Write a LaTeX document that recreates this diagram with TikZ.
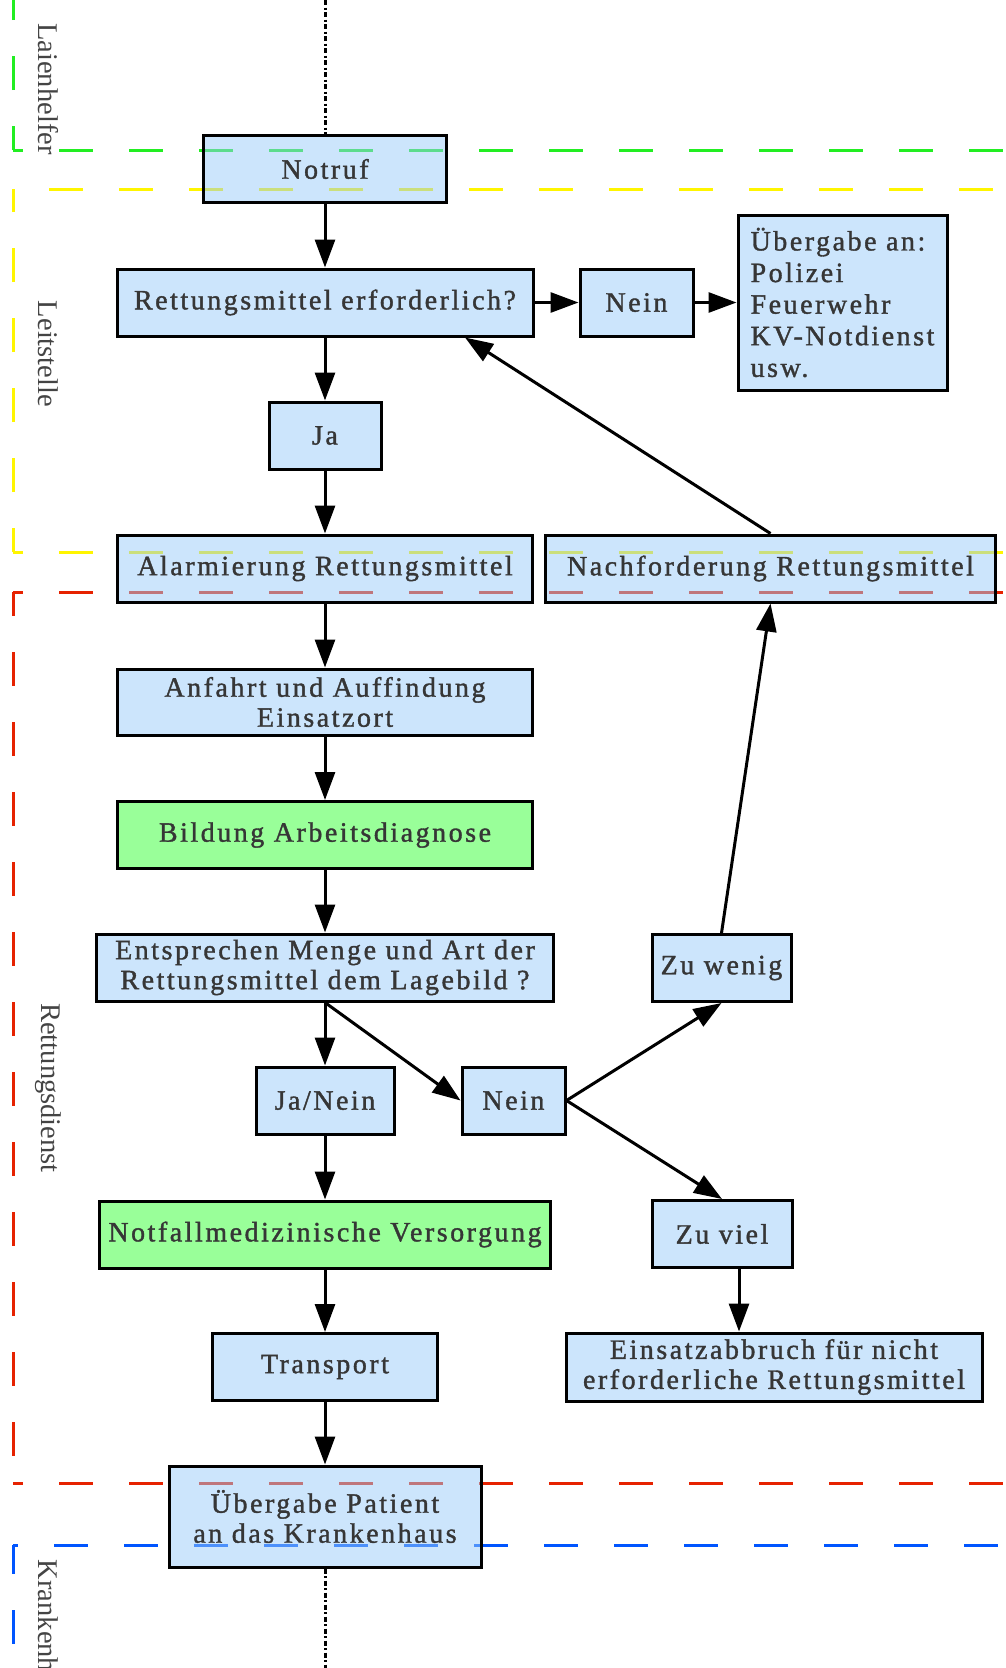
\documentclass[tikz,border=0pt]{standalone}
\usepackage{fontspec}
\setmainfont{Liberation Serif}
\newfontfamily\boxfont[LetterSpace=9, FakeBold=1.3]{Liberation Serif}
\usetikzlibrary{arrows.meta, positioning, calc}
\definecolor{mBox}{RGB}{153,203,249}
\definecolor{mAction}{RGB}{51,255,51}
\definecolor{mText}{HTML}{363636}
\definecolor{mLaie}{RGB}{34,238,34}
\definecolor{mLeit}{RGB}{255,245,0}
\definecolor{mRett}{RGB}{230,34,0}
\definecolor{mKrank}{RGB}{0,85,255}
\definecolor{mLabel}{HTML}{444444}

\begin{document}
\begin{tikzpicture}[x=1pt, y=-1pt, line width=3pt,
      >={Triangle[length=28pt, width=20pt]},
      box/.style={draw, fill=mBox, fill opacity=0.5, text opacity=1,
                  text=mText, inner sep=0pt, minimum height=67pt,
                  align=center, font=\boxfont\fontsize{28}{30}\selectfont},
      act/.style={box, fill=mAction},
      lane/.style={dash pattern=on 34pt off 36pt, line width=3pt},
      lanelbl/.style={rotate=-90, text=mLabel,
                      font=\fontsize{28.5}{30}\selectfont},
      dotline/.style={line width=3pt,
                      dash pattern=on 5pt off 2.5pt on 2pt off 2.5pt}]
    \useasboundingbox (0,0) rectangle (1005,1668);

    % lanes
    \draw[lane, mLaie, dash phase=10pt] (13,150) -- (13,-60);
    \draw[lane, mLaie, dash phase=24pt] (13,150) -- (1060,150);
    \draw[lane, mLeit, dash phase=34pt] (13,189) -- (1060,189);
    \draw[lane, mLeit, dash phase=10pt] (13,552) -- (13,189);
    \draw[lane, mLeit, dash phase=24pt] (13,552) -- (1060,552);
    \draw[lane, mRett, dash phase=24pt] (13,592) -- (1060,592);
    \draw[lane, mRett, dash phase=10pt] (13,592) -- (13,1483);
    \draw[lane, mRett, dash phase=24pt] (13,1483) -- (1060,1483);
    \draw[lane, mKrank, dash phase=29pt] (13,1545) -- (1060,1545);
    \draw[lane, mKrank, dash phase=5pt] (13,1545) -- (13,1720);

    \node[lanelbl] (laien) at (48,89) {Laienhelfer};
    \node[lanelbl] (leit) at (48,354) {Leitstelle};
    \node[lanelbl] (rett) at (48,1088) {Rettungsdienst};
    \node[lanelbl] (krank) at (48,1635) {Krankenhaus};

    % boxes
    \node[box, minimum width=243pt] (notruf) at (325,169) {Notruf};
    \node[box, minimum width=416pt] (erf) at (325,302.5) {Rettungsmittel erforderlich?};
    \node[box, minimum width=113pt] (neinA) at (636.5,302.5) {Nein};
    \node[box, minimum width=209pt, minimum height=175pt, align=left,
          font=\boxfont\fontsize{28}{31.6}\selectfont] (abgabe) at (842.5,302.5)
          {Übergabe an:\\Polizei\\Feuerwehr\\KV-Notdienst\\usw.};
    \node[box, minimum width=112pt] (ja) at (325,435.5) {Ja};
    \node[box, minimum width=415pt] (alarm) at (325,568.5) {Alarmierung Rettungsmittel};
    \node[box, minimum width=450pt] (nachf) at (770.5,568.5) {Nachforderung Rettungsmittel};
    \node[box, minimum width=415pt, minimum height=66pt] (anfahrt) at (325,702)
          {Anfahrt und Auffindung\\Einsatzort};
    \node[act, minimum width=415pt] (diagnose) at (325,835) {Bildung Arbeitsdiagnose};
    \node[box, minimum width=457pt] (lage) at (325,967.5)
          {Entsprechen Menge und Art der\\Rettungsmittel dem Lagebild ?};
    \node[box, minimum width=138pt] (janein) at (325,1100.5) {Ja/Nein};
    \node[box, minimum width=103pt] (neinB) at (513.5,1100.5) {Nein};
    \node[box, minimum width=139pt] (wenig) at (721.5,968) {Zu wenig};
    \node[act, minimum width=451pt] (versorgung) at (325,1234.5) {Notfallmedizinische Versorgung};
    \node[box, minimum width=140pt] (viel) at (722,1234) {Zu viel};
    \node[box, minimum width=225pt] (transport) at (325,1367) {Transport};
    \node[box, minimum width=416pt, minimum height=68pt] (abbruch) at (774,1367)
          {Einsatzabbruch für nicht\\erforderliche Rettungsmittel};
    \node[box, minimum width=312pt, minimum height=101pt] (uebergabe) at (325,1516.5)
          {Übergabe Patient\\an das Krankenhaus};

    \coordinate (oben) at (325,0);
    \coordinate (unten) at (325,1668);
    \draw[dotline] (oben) -- (notruf);
    \draw[dotline] (uebergabe) -- (unten);

    % connectors
    \draw[->] (notruf) -- (erf);
    \draw[->] (erf) -- (neinA);
    \draw[->] (neinA) -- (abgabe);
    \draw[->] (erf) -- (ja);
    \draw[->] (ja) -- (alarm);
    \draw[->] (nachf.north) -- ([xshift=140pt]erf.south);
    \draw[->] (alarm) -- (anfahrt);
    \draw[->] (anfahrt) -- (diagnose);
    \draw[->] (diagnose) -- (lage);
    \draw[->] (lage) -- (janein);
    \draw[->] (lage.south) -- (neinB.west);
    \draw[->] (neinB.east) -- (wenig.south);
    \draw[->] (neinB.east) -- (viel.north);
    \draw[->] (wenig.north) -- (nachf.south);
    \draw[->] (janein) -- (versorgung);
    \draw[->] (versorgung) -- (transport);
    \draw[->] (transport) -- (uebergabe);
    \draw[->] ([xshift=17pt]viel.south) -- ([xshift=17pt]viel.south |- abbruch.north);
  \end{tikzpicture}
\end{document}
